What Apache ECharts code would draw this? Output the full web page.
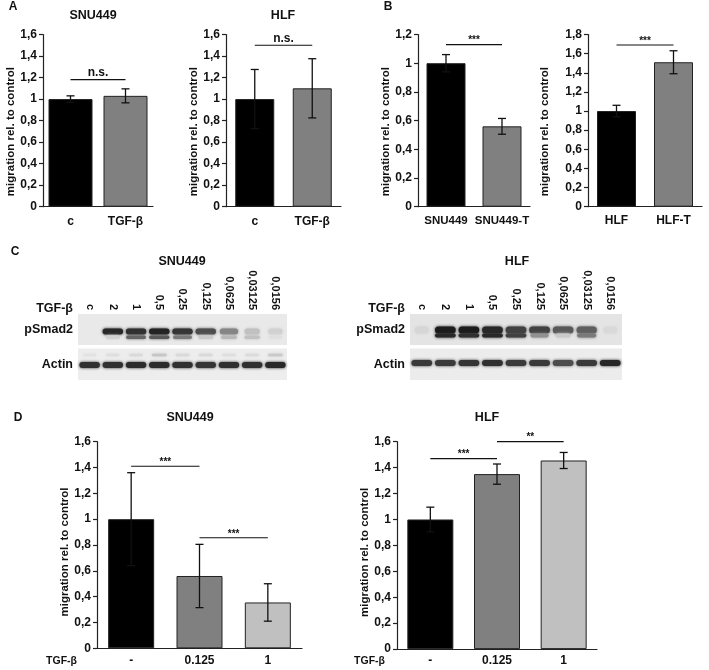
<!DOCTYPE html>
<html><head><meta charset="utf-8">
<script src="https://cdn.jsdelivr.net/npm/echarts@6/dist/echarts.min.js"></script>
<style>html,body{margin:0;padding:0;background:#fff}#c{width:709px;height:670px}</style>
</head><body><div id="c"></div>
<script>
// ---------------- DATA ----------------
// Panel A
const catsA = ['c', 'TGF-β'];
const snuA = [1.0, 1.03];
const snuAErr = [0.03, 0.065];
const hlfA = [1.0, 1.10];
const hlfAErr = [0.275, 0.275];
const sigA1 = [[0, 1, 1.18, 'n.s.']];
const sigA2 = [[0, 1, 1.50, 'n.s.']];
// Panel B
const catsB1 = ['SNU449', 'SNU449-T'];
const snuB = [1.0, 0.56];
const snuBErr = [0.06, 0.055];
const catsB2 = ['HLF', 'HLF-T'];
const hlfB = [1.0, 1.51];
const hlfBErr = [0.06, 0.12];
const sigB1 = [[0, 1, 1.13, '***']];
const sigB2 = [[0, 1, 1.69, '***']];
// Panel D
const catsD = ['-', '0.125', '1'];
const snuD = [1.0, 0.56, 0.355];
const snuDErr = [0.36, 0.245, 0.145];
const hlfD = [1.0, 1.35, 1.455];
const hlfDErr = [0.095, 0.078, 0.062];
const sigD1 = [[0, 1, 1.41, '***'], [1, 2, 0.856, '***']];
const sigD2 = [[0, 1, 1.47, '***'], [1, 2, 1.60, '**']];
// Axis maxima
const yMaxA = 1.6, yMaxB1 = 1.2, yMaxB2 = 1.8, yMaxD = 1.6;
// Panel C (western blots): lanes and band intensities (0 = none, 1 = darkest)
const lanes = ['c', '2', '1', '0,5', '0,25', '0,125', '0,0625', '0,03125', '0,0156'];
const snuPSmadUpper = [0, 0.95, 0.92, 0.97, 0.9, 0.8, 0.55, 0.25, 0.15];
const snuPSmadLower = [0, 0.15, 0.7, 0.75, 0.6, 0.2, 0.3, 0.25, 0.05];
const snuActin = [0.92, 0.92, 0.94, 0.94, 0.92, 0.9, 0.92, 0.92, 0.95];
const snuActinFaint = [0.03, 0.06, 0.1, 0.22, 0.1, 0.1, 0.06, 0.08, 0.2];
const hlfPSmadUpper = [0.12, 1.0, 1.0, 0.95, 0.85, 0.85, 0.75, 0.72, 0.1];
const hlfPSmadLower = [0, 0.95, 0.92, 0.95, 0.85, 0.5, 0.2, 0.6, 0];
const hlfActin = [0.88, 0.88, 0.9, 0.92, 0.88, 0.88, 0.8, 0.88, 0.96];

// ---------------- STYLE / BUILD ----------------
const FONT = '"Liberation Sans", Arial, sans-serif';
const BLACK = '#000000', GRAY = '#808080', LIGHT = '#c0c0c0';
const grids = [], xAxes = [], yAxes = [], series = [];
const fmt = v => v === 0 ? '0' : String(Math.round(v * 10) / 10).replace('.', ',');

function errRender(params, api) {
  const x = api.value(0);
  const p1 = api.coord([x, api.value(2)]), p2 = api.coord([x, api.value(1)]);
  const w = 4, st = { stroke: '#111', lineWidth: 1.3 };
  return { type: 'group', children: [
    { type: 'line', shape: { x1: p1[0], y1: p1[1], x2: p2[0], y2: p2[1] }, style: st },
    { type: 'line', shape: { x1: p1[0] - w, y1: p1[1], x2: p1[0] + w, y2: p1[1] }, style: st },
    { type: 'line', shape: { x1: p2[0] - w, y1: p2[1], x2: p2[0] + w, y2: p2[1] }, style: st }
  ] };
}
function sigRender(sigs) {
  return function (params, api) {
    const s = sigs[params.dataIndex];
    const a = api.coord([api.value(0), api.value(2)]), b = api.coord([api.value(1), api.value(2)]);
    const isStar = s[3].indexOf('*') >= 0;
    return { type: 'group', children: [
      { type: 'line', shape: { x1: a[0], y1: a[1], x2: b[0], y2: b[1] }, style: { stroke: '#111', lineWidth: 1.2 } },
      { type: 'text', x: (a[0] + b[0]) / 2, y: a[1] - (isStar ? -1 : 1),
        style: { text: s[3], textAlign: 'center', textVerticalAlign: 'bottom', fill: '#111',
          font: 'bold ' + (isStar ? 10 : 12) + 'px ' + FONT } }
    ] };
  };
}
function addBarPanel(g, cats, vals, errs, colors, ymax, barWidth, sigs, nameGap, nameShift, labelMargin, labelSize) {
  const gi = grids.length;
  grids.push({ left: g[0], top: g[1], width: g[2], height: g[3] });
  xAxes.push({ gridIndex: gi, type: 'category', data: cats,
    axisLine: { lineStyle: { color: '#222', width: 1.2 } },
    axisTick: { length: 4, lineStyle: { color: '#222', width: 1.2 } },
    axisLabel: { interval: 0, color: '#111', fontSize: labelSize || 12, fontWeight: 'bold', fontFamily: FONT, margin: labelMargin } });
  yAxes.push({ gridIndex: gi, type: 'value', min: 0, max: ymax, interval: 0.2,
    name: 'migration rel. to control', nameLocation: 'middle', nameGap: nameGap,
    nameTextStyle: { color: '#111', fontSize: 11.5, fontWeight: 'bold', fontFamily: FONT, padding: [0, nameShift, 0, 0] },
    axisLine: { show: true, lineStyle: { color: '#222', width: 1.2 } },
    axisTick: { show: true, length: 4, lineStyle: { color: '#222', width: 1.2 } },
    splitLine: { show: false },
    axisLabel: { formatter: fmt, color: '#111', fontSize: 12, fontWeight: 'bold', fontFamily: FONT, margin: 6 } });
  series.push({ type: 'bar', xAxisIndex: gi, yAxisIndex: gi, barWidth: barWidth,
    data: vals.map((v, i) => ({ value: v, itemStyle: { color: colors[i], borderColor: '#222', borderWidth: 1 } })) });
  series.push({ type: 'custom', xAxisIndex: gi, yAxisIndex: gi, z: 5,
    data: vals.map((v, i) => [i, v - errs[i], v + errs[i]]), renderItem: errRender });
  series.push({ type: 'custom', xAxisIndex: gi, yAxisIndex: gi, z: 5, encode: { x: [0, 1], y: 2 },
    data: sigs.map(s => [s[0], s[1], s[2]]), renderItem: sigRender(sigs) });
}
function blotRender(rowDefs) {
  return function (params, api) {
    const c = api.coord([api.value(0), 0]);
    const sz = api.size([1, 1]);
    const H = sz[1], top = c[1] - H / 2;
    const children = [];
    rowDefs.forEach((r, k) => {
      const v = api.value(2 + k);
      if (!(v > 0)) return;
      const bw = sz[0] * (0.55 + 0.33 * Math.min(1, v * 1.3));
      const gv = Math.round(228 - 200 * Math.pow(v, 1.25));
      const col = 'rgb(' + gv + ',' + gv + ',' + gv + ')';
      children.push({ type: 'rect',
        shape: { x: c[0] - bw / 2, y: top + H * r.frac - r.h / 2, width: bw, height: r.h, r: r.h / 2 },
        style: { fill: col, shadowBlur: 3, shadowColor: col } });
    });
    return { type: 'group', children: children };
  };
}
function addBlot(g, showLanes, rowName, rowsData, rowDefs, bg) {
  const gi = grids.length;
  grids.push({ left: g[0], top: g[1], width: g[2], height: g[3], show: true, backgroundColor: bg, borderWidth: 0 });
  xAxes.push({ gridIndex: gi, type: 'category', data: lanes, position: 'top',
    axisLine: { show: false }, axisTick: { show: false },
    axisLabel: { show: showLanes, interval: 0, rotate: 90, margin: 4, color: '#111', fontSize: 11, fontWeight: 'bold', fontFamily: FONT } });
  yAxes.push({ gridIndex: gi, type: 'category', data: [rowName],
    axisLine: { show: false }, axisTick: { show: false }, splitLine: { show: false },
    axisLabel: { margin: 5, color: '#111', fontSize: 12.5, fontWeight: 'bold', fontFamily: FONT } });
  series.push({ type: 'custom', xAxisIndex: gi, yAxisIndex: gi, encode: { x: 0, y: 1 },
    data: lanes.map((l, i) => [i, 0].concat(rowsData.map(r => r[i]))), renderItem: blotRender(rowDefs) });
}

// Panels A, B
addBarPanel([43, 34.5, 110, 172.2], catsA, snuA, snuAErr, [BLACK, GRAY], yMaxA, 44, sigA1, 25, 22, 9);
addBarPanel([226, 34.5, 115, 172.2], catsA, hlfA, hlfAErr, [BLACK, GRAY], yMaxA, 39, sigA2, 25, 22, 9);
addBarPanel([418, 34.5, 112, 172.2], catsB1, snuB, snuBErr, [BLACK, GRAY], yMaxB1, 39, sigB1, 25, 22, 8, 11.5);
addBarPanel([588, 34.5, 114, 172.2], catsB2, hlfB, hlfBErr, [BLACK, GRAY], yMaxB2, 39, sigB2, 37, 22, 8);
// Panel D
addBarPanel([97, 441.7, 205, 206.6], catsD, snuD, snuDErr, [BLACK, GRAY, LIGHT], yMaxD, 46, sigD1, 24, 14, 6);
addBarPanel([397, 441.7, 200, 207.4], catsD, hlfD, hlfDErr, [BLACK, GRAY, LIGHT], yMaxD, 46, sigD2, 23, 14, 6);
// Panel C blots
addBlot([78, 314, 209, 31], true, 'pSmad2', [snuPSmadUpper, snuPSmadLower], [{ frac: 0.565, h: 6 }, { frac: 0.75, h: 3.5 }], '#e9e9e9');
addBlot([78, 348.5, 209, 31.5], false, 'Actin', [snuActinFaint, snuActin], [{ frac: 0.21, h: 2.5 }, { frac: 0.52, h: 6 }], '#ededed');
addBlot([410, 314, 212, 31], true, 'pSmad2', [hlfPSmadUpper, hlfPSmadLower], [{ frac: 0.516, h: 7 }, { frac: 0.69, h: 4 }], '#e4e4e4');
addBlot([410, 348.5, 212, 31.5], false, 'Actin', [hlfActin], [{ frac: 0.46, h: 6 }], '#ececec');

function txt(x, y, t, size, align) {
  return { type: 'text', x: x, y: y, silent: true,
    style: { text: t, textAlign: align || 'center', textVerticalAlign: 'middle', fill: '#111',
      font: 'bold ' + size + 'px ' + FONT } };
}
const graphics = [
  txt(13, 7, 'A', 12), txt(388, 7, 'B', 12), txt(15, 252, 'C', 12), txt(18, 418, 'D', 12),
  txt(93, 16, 'SNU449', 12.5), txt(283, 16, 'HLF', 12.5),
  txt(182, 262, 'SNU449', 12.5), txt(517, 262, 'HLF', 12.5),
  txt(190, 418, 'SNU449', 12.5), txt(487, 418, 'HLF', 12.5),
  txt(73, 309, 'TGF-β', 12.5, 'right'), txt(405, 309, 'TGF-β', 12.5, 'right'),
  txt(77, 661, 'TGF-β', 10.5, 'right'), txt(385, 661, 'TGF-β', 10.5, 'right')
];

const chart = echarts.init(document.getElementById('c'), null, { renderer: 'canvas' });
chart.setOption({
  animation: false,
  backgroundColor: '#ffffff',
  grid: grids, xAxis: xAxes, yAxis: yAxes, series: series,
  graphic: graphics
});
</script></body></html>
